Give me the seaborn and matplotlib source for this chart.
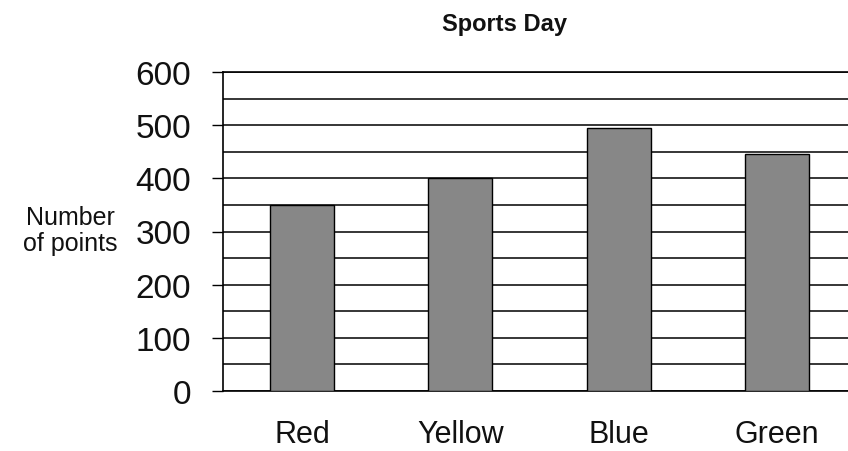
import matplotlib
matplotlib.use("Agg")
import matplotlib.pyplot as plt
import seaborn as sns
import pandas as pd
from matplotlib.ticker import MultipleLocator

teams = ["Red", "Yellow", "Blue", "Green"]
points = [350, 400, 495, 445]
y_ticks = [0, 100, 200, 300, 400, 500, 600]

sns.set_theme(style="white")
plt.rcParams['font.family'] = ['Liberation Sans', 'DejaVu Sans']

df = pd.DataFrame({"team": teams, "points": points})

W, H = 848, 452
fig = plt.figure(figsize=(W / 100, H / 100), dpi=100)
left, top, bottom = 223, 73, 392
ax = fig.add_axes([left / W, 1 - bottom / H, 1 - left / W, (bottom - top) / H])

sns.barplot(data=df, x="team", y="points", color="#878787", edgecolor="black",
            linewidth=1.0, width=0.405, saturation=1, ax=ax, zorder=3)

ax.set_ylim(0, 600)
ax.set_xlim(-0.5, 3.45)
ax.set_yticks(y_ticks)
ax.yaxis.set_minor_locator(MultipleLocator(50))
ax.grid(True, axis="y", which="both", color="black", linewidth=1.1, zorder=0)
ax.set_axisbelow(True)

ax.spines["right"].set_visible(False)
for s in ["left", "bottom", "top"]:
    ax.spines[s].set_color("black")
    ax.spines[s].set_linewidth(1.2)

ax.tick_params(axis="y", which="major", direction="out", length=8, width=1.0,
               color="black", left=True, pad=15, labelsize=24, labelcolor="#111111")
ax.tick_params(axis="y", which="minor", left=False)
ax.tick_params(axis="x", length=0, pad=20, labelsize=22, labelcolor="#111111")

ax.set_xlabel("")
ax.set_ylabel("")

fig.text(70 / W, 1 - 231 / H, "Number\nof points", ha="center", va="center",
         multialignment="center", fontsize=18, color="#111111", linespacing=1.15)
fig.text(504 / W, 1 - 24 / H, "Sports Day", ha="center", va="center",
         fontsize=17, fontweight="bold", color="#111111")

fig.savefig("out.png", dpi=100)
